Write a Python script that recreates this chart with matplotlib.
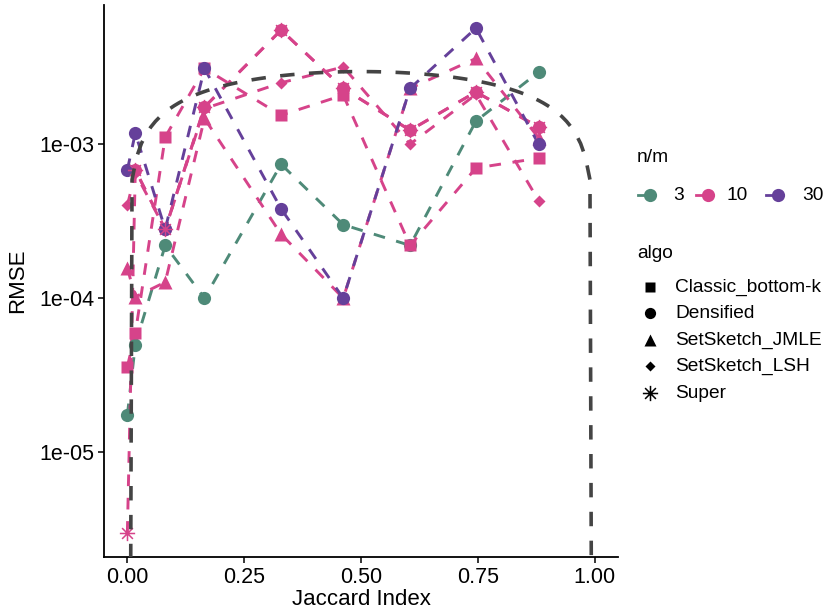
import numpy as np
import matplotlib
matplotlib.use("Agg")
import matplotlib.pyplot as plt
from matplotlib.lines import Line2D
from matplotlib.path import Path

plt.rcParams['font.family'] = ['Liberation Sans', 'DejaVu Sans']

# Jaccard values tested
jaccard = [0.0, 0.017, 0.081, 0.165, 0.329, 0.462, 0.605, 0.746, 0.880]

# RMSE per (n/m, algo)
rmse_3_densified = [1.74e-5, 5.0e-5, 2.2e-4, 1.0e-4, 7.4e-4, 3.0e-4, 2.2e-4, 1.41e-3, 2.93e-3]
rmse_30_densified = [6.8e-4, 1.18e-3, 2.8e-4, 3.1e-3, 3.8e-4, 1.0e-4, 2.3e-3, 5.66e-3, 1.0e-3]
rmse_10_classic = [3.6e-5, 5.9e-5, 1.11e-3, 3.1e-3, 1.54e-3, 2.08e-3, 2.2e-4, 7.0e-4, 8.1e-4]
rmse_10_densified = [None, 6.8e-4, 2.8e-4, 1.74e-3, 5.5e-3, 2.3e-3, 1.23e-3, 2.18e-3, 1.29e-3]
rmse_10_jmle = [1.57e-4, 1.02e-4, 1.27e-4, 1.47e-3, 2.6e-4, 1.0e-4, 2.3e-3, 3.6e-3, 1.1e-3]
rmse_10_lsh = [4.0e-4, 6.5e-4, 2.8e-4, 1.7e-3, 2.5e-3, 3.17e-3, 1.0e-3, 2.1e-3, 4.3e-4]
rmse_10_super = [3.0e-6, 6.8e-4, 2.8e-4, 1.74e-3, 5.5e-3, 2.3e-3, 1.23e-3, 2.18e-3, 1.29e-3]

nm_levels = ['3', '10', '30']
algo_levels = ['Classic_bottom-k', 'Densified', 'SetSketch_JMLE', 'SetSketch_LSH', 'Super']

# sketch size used for the reference curve sqrt(J(1-J)/m)
m_sketch = 28600

colors = {'3': '#4E8A78', '10': '#D6438A', '30': '#65409A'}
LW = 2.1

# ggplot-like asterisk (plus + cross)
d = 0.707
star = Path([(-1, 0), (1, 0), (0, -1), (0, 1), (-d, -d), (d, d), (-d, d), (d, -d)],
            [Path.MOVETO, Path.LINETO] * 4)
shapes = {
    'Classic_bottom-k': dict(marker='s', ms=9),
    'Densified': dict(marker='o', ms=9.5),
    'SetSketch_JMLE': dict(marker='^', ms=10.5),
    'SetSketch_LSH': dict(marker='D', ms=6.5),
    'Super': dict(marker=star, ms=11, mew=1.1),
}

series = [
    ('3', 'Densified', rmse_3_densified),
    ('10', 'Classic_bottom-k', rmse_10_classic),
    ('10', 'Densified', rmse_10_densified),
    ('10', 'SetSketch_JMLE', rmse_10_jmle),
    ('10', 'SetSketch_LSH', rmse_10_lsh),
    ('10', 'Super', rmse_10_super),
    ('30', 'Densified', rmse_30_densified),
]

W, H = 836, 615
fig = plt.figure(figsize=(W / 100, H / 100), dpi=100)
ax = fig.add_axes([104 / W, 58 / H, 514 / W, 552 / H])
ax.set_yscale('log')
ax.set_xlim(-0.05, 1.05)
ax.set_ylim(10 ** -5.68, 10 ** -2.097)


def screen_length(xs, ys):
    # length of a polyline in points, used to keep dash phases in step
    pts = ax.transData.transform(np.column_stack([xs, ys]))
    return np.sum(np.hypot(*np.diff(pts, axis=0).T)) * 72 / fig.dpi


def split(vals):
    xs = [j for j, v in zip(jaccard, vals) if v is not None]
    ys = [v for v in vals if v is not None]
    return xs, ys


# pink Densified runs on top of Super from J=0.017 on: start its dashes in phase
sx, sy = split(rmse_10_super)
phase = screen_length(sx[:2], sy[:2]) / LW

# lines first, points on top
for nm, algo, vals in series:
    xs, ys = split(vals)
    off = phase if (nm, algo) == ('10', 'Densified') else 0
    ax.plot(xs, ys, color=colors[nm], lw=LW, ls=(off, (4, 4)), zorder=2)
for nm, algo, vals in series:
    xs, ys = split(vals)
    st = shapes[algo]
    if algo == 'Super':
        ax.plot(xs, ys, ls='none', marker=st['marker'], ms=st['ms'],
                mew=st['mew'], color=colors[nm], zorder=4)
    else:
        ax.plot(xs, ys, ls='none', marker=st['marker'], ms=st['ms'],
                mec='none', mfc=colors[nm], zorder=3)

# reference curve, sampled like stat_function (n = 101); zeros go off the bottom
jj = np.linspace(0, 1, 101)
curve = np.sqrt(jj * (1 - jj) / m_sketch)
curve[curve == 0] = 1e-12
ax.plot(jj, curve, color='#444444', lw=2.6, dashes=(4, 4), zorder=5)

ax.set_xticks([0, 0.25, 0.5, 0.75, 1.0])
ax.set_xticklabels(['0.00', '0.25', '0.50', '0.75', '1.00'])
ax.set_yticks([1e-5, 1e-4, 1e-3])
ax.set_yticklabels(['1e-05', '1e-04', '1e-03'])
ax.yaxis.set_minor_locator(matplotlib.ticker.NullLocator())
ax.tick_params(labelsize=15.5, length=4, width=1.1, colors='black', pad=3)
for s in ['top', 'right']:
    ax.spines[s].set_visible(False)
for s in ['left', 'bottom']:
    ax.spines[s].set_linewidth(1.3)
ax.set_xlabel('Jaccard Index', fontsize=16, labelpad=1)
ax.set_ylabel('RMSE', fontsize=16, labelpad=8)


# legend keys laid out by hand in pixel positions
def fx(px):
    return px / W


def fy(py):
    return 1 - py / H


LEG_FS = 13.8
fig.text(fx(637), fy(157), 'n/m', fontsize=LEG_FS, va='center', ha='left')
for k, mx, tx in zip(nm_levels, [650, 708, 778], [673, 727, 802]):
    fig.add_artist(Line2D([fx(mx - 12), fx(mx)], [fy(195), fy(195)], color=colors[k],
                          lw=2.0, transform=fig.transFigure))
    fig.add_artist(Line2D([fx(mx)], [fy(195)], ls='none', marker='o', ms=9.5,
                          mec='none', mfc=colors[k], transform=fig.transFigure))
    fig.text(fx(tx), fy(195), k, fontsize=LEG_FS, va='center', ha='left')

fig.text(fx(637), fy(253), 'algo', fontsize=LEG_FS, va='center', ha='left')
for a, ky in zip(algo_levels, [287, 313, 340, 366, 393]):
    st = shapes[a]
    if a == 'Super':
        key = Line2D([fx(650)], [fy(ky)], ls='none', marker=st['marker'], ms=st['ms'],
                     mew=st['mew'], color='black', transform=fig.transFigure)
    else:
        key = Line2D([fx(650)], [fy(ky)], ls='none', marker=st['marker'],
                     ms=st['ms'] * 0.85, mec='none', mfc='black',
                     transform=fig.transFigure)
    fig.add_artist(key)
    fig.text(fx(675), fy(ky), a, fontsize=LEG_FS, va='center', ha='left')

fig.savefig('out.png', dpi=100)
